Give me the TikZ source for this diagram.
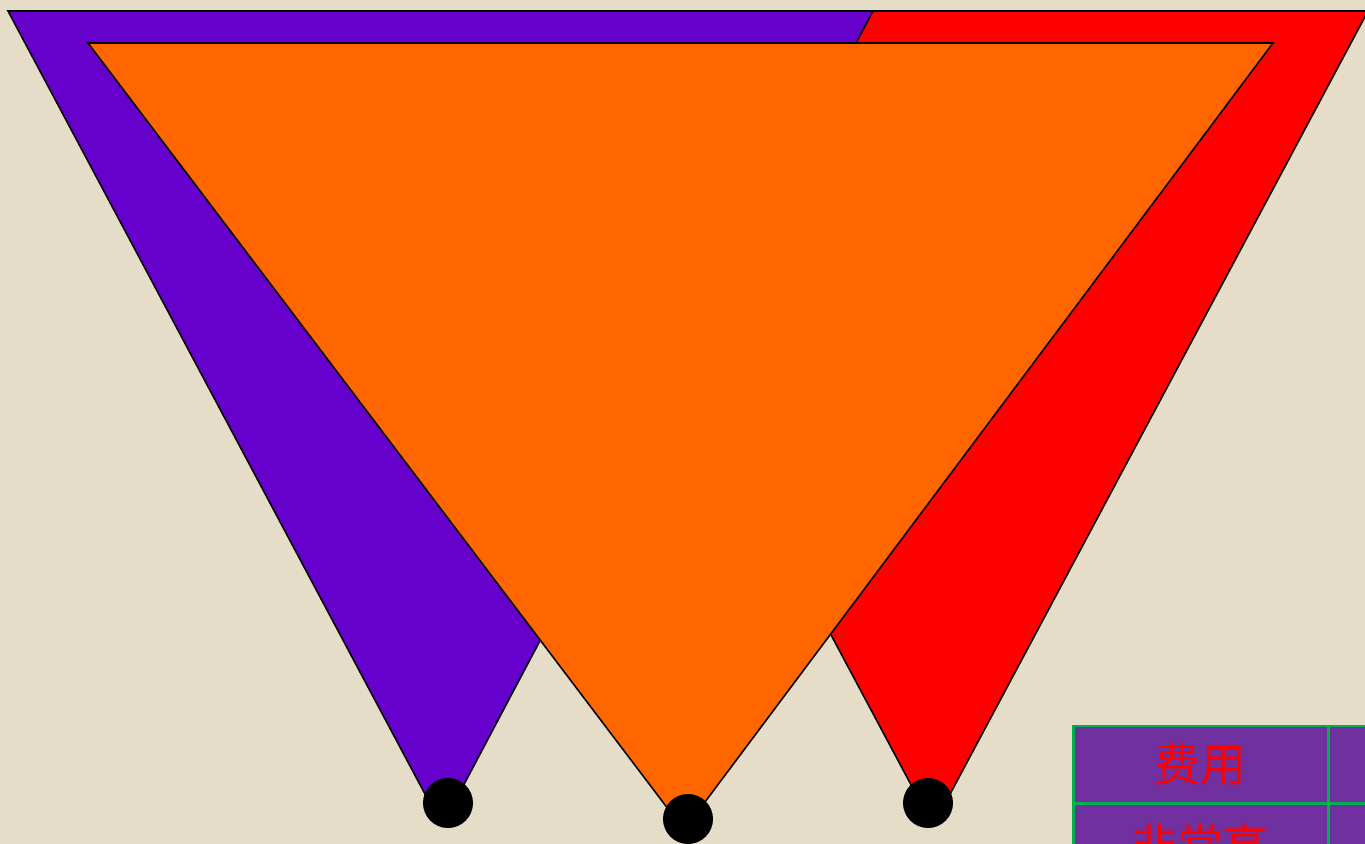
\documentclass[tikz,border=0pt]{standalone}
\usepackage{fontspec}
\newfontfamily\cjk{Noto Sans CJK SC}
\definecolor{paper}{HTML}{E6DDC9}
\definecolor{violet1}{HTML}{6600CC}
\definecolor{orange1}{HTML}{FF6600}
\definecolor{cellpurple}{HTML}{7030A0}
\definecolor{cellgreen}{HTML}{00B050}

\begin{document}
\begin{tikzpicture}[x=0.02cm, y=-0.02cm]
  \useasboundingbox (0,0) rectangle (1365,844);
  \clip (0,0) rectangle (1365,844);
  \fill[paper] (0,0) rectangle (1365,844);

  \fill[red, draw=black, line width=0.9pt]
    (498,11) -- (1368,11) -- (933,826) -- cycle;
  \fill[violet1, draw=black, line width=0.9pt]
    (8,11) -- (873,11) -- (442,826) -- cycle;
  \fill[orange1, draw=black, line width=0.9pt]
    (88,43) -- (1273,43) -- (684,830) -- cycle;

  \fill[black] (448,803) circle (0.5cm);
  \fill[black] (688,819) circle (0.5cm);
  \fill[black] (928,803) circle (0.5cm);

  \filldraw[fill=cellpurple, draw=cellgreen, line width=1.7pt]
    (1073,726) rectangle (1328,803)
    (1073,803) rectangle (1328,880)
    (1328,726) rectangle (1400,803)
    (1328,803) rectangle (1400,880);
  \node[red, font=\cjk\fontsize{26}{26}\selectfont] (cost) at (1200,764) {费用};
  \node[red, font=\cjk\fontsize{26}{26}\selectfont] (high) at (1200,845) {非常高};
\end{tikzpicture}
\end{document}
